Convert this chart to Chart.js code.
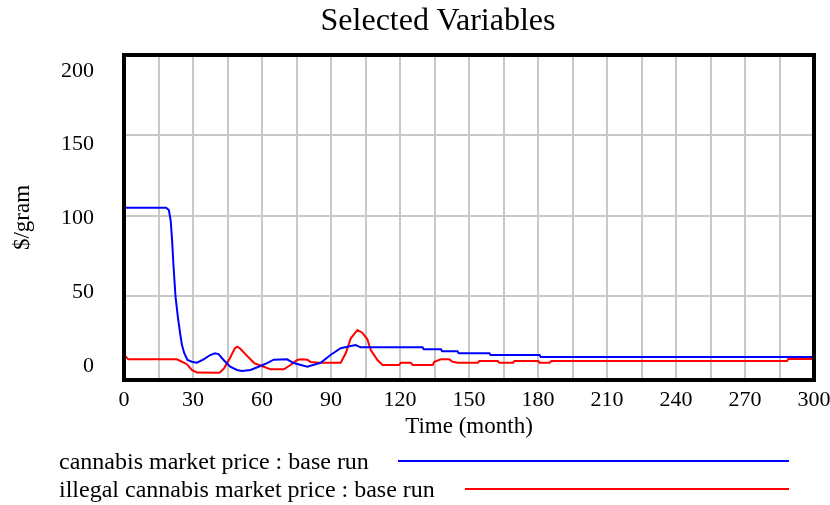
<!DOCTYPE html>
<html>
<head>
<meta charset="utf-8">
<script src="https://cdn.jsdelivr.net/npm/chart.js@4.4.1/dist/chart.umd.min.js"></script>
<style>
  body { margin: 0; background: #fff; }
  #wrap { position: relative; width: 830px; height: 505px; font-family: 'Liberation Serif', 'Times New Roman', serif; color: #000; }
  #myChart { position: absolute; left: 0; top: 0; }
  #title { position: absolute; left: 0; top: 0; width: 876px; text-align: center; font-size: 32px; line-height: 38px; }
  .legtext { position: absolute; left: 59px; font-size: 24px; line-height: 28px; white-space: nowrap; }
  .legline { position: absolute; height: 2px; }
</style>
</head>
<body>
<div id="wrap">
  <canvas id="myChart" width="830" height="505"></canvas>
  <div id="title">Selected Variables</div>
  <div id="legend"></div>
</div>
<script>
// series (time in months, price in $/gram)
var seriesNames = ['cannabis market price : base run', 'illegal cannabis market price : base run'];
var seriesColors = ['#0000ff', '#ff0000'];

var blueTime = [0, 18.3, 19.5, 20.3, 20.9, 21.5, 22.4, 23.4, 24.4, 25.2, 26.2, 27.6, 29.5, 31.7,
  34.6, 37.5, 39.5, 41.1, 43.3, 46.2, 49.1, 51.3, 55, 59.3, 62.2, 65.1, 70.9, 73.8, 79.7, 85.5,
  89.8, 94.2, 98.6, 100.7, 102.9, 129.8, 130.3, 137.8, 138.3, 145, 145.5, 158.9, 159.4, 180.7, 181.2, 300];
var bluePrice = [105, 105, 103.5, 97, 85, 69.3, 49.6, 37.2, 26.8, 19.5, 14.4, 10.2, 9.1, 8.5,
  10.6, 13.3, 14.4, 13.9, 10.2, 6.0, 4.0, 3.4, 4.0, 6.5, 8.3, 10.4, 10.6, 8.3, 6.0, 8.5,
  13.3, 17.5, 18.9, 19.5, 18.1, 18.1, 16.9, 16.9, 15.6, 15.6, 14.4, 14.4, 13.3, 13.3, 12.0, 12.0];

var redTime = [0, 1.9, 23, 25.2, 27.3, 29.5, 31.7, 41.5, 43.5, 46.2, 48.2, 49.3, 50.6, 53.5, 56.6,
  60.8, 63.7, 69.5, 72.4, 75.3, 76.8, 79.7, 81.1, 84.8, 94.2, 96.4, 98.6, 101.5, 103.6, 105.8,
  107.3, 110.2, 112.4, 119.6, 120.4, 124.7, 125.5, 134.2, 134.9, 137.8, 141.4, 142.9, 145.1,
  153.8, 154.5, 162.5, 163.2, 169.1, 169.8, 180, 180.7, 185, 185.8, 288.3, 288.8, 300];
var redPrice = [13.3, 10.6, 10.6, 9.1, 7.6, 4.0, 2.4, 2.3, 5.0, 11.8, 17.5, 18.5, 17.2, 12.8, 8.3,
  6.0, 4.4, 4.4, 7.1, 10.2, 10.6, 10.4, 9.0, 8.5, 8.5, 14.4, 23.7, 28.9, 27.2, 23.1,
  16.4, 10.2, 7.1, 7.1, 8.5, 8.5, 7.1, 7.1, 9.1, 10.6, 10.6, 9.1, 8.5,
  8.5, 9.6, 9.6, 8.5, 8.5, 9.6, 9.6, 8.5, 8.5, 9.6, 9.6, 10.8, 10.8];

var xTicks = [0, 30, 60, 90, 120, 150, 180, 210, 240, 270, 300];
var yTicks = [0, 50, 100, 150, 200];

function toPoints(ts, vs) {
  var pts = [];
  for (var i = 0; i < ts.length; i++) pts.push({x: ts[i], y: vs[i]});
  return pts;
}

// legend rows below the chart
function buildLegend() {
  var legend = document.getElementById('legend');
  var rows = [{top: 447, lineLeft: 398, lineTop: 460}, {top: 475, lineLeft: 465, lineTop: 488}];
  for (var i = 0; i < seriesNames.length; i++) {
    var t = document.createElement('div');
    t.className = 'legtext';
    t.style.top = rows[i].top + 'px';
    t.innerText = seriesNames[i];
    legend.appendChild(t);
    var l = document.createElement('div');
    l.className = 'legline';
    l.style.left = rows[i].lineLeft + 'px';
    l.style.top = rows[i].lineTop + 'px';
    l.style.width = (789 - rows[i].lineLeft) + 'px';
    l.style.background = seriesColors[i];
    legend.appendChild(l);
  }
}

// thick black box round the plot
var framePlugin = {
  id: 'frame',
  afterDraw: function(chart) {
    var a = chart.chartArea, ctx = chart.ctx;
    ctx.save();
    ctx.strokeStyle = '#000';
    ctx.lineWidth = 4;
    ctx.strokeRect(a.left, a.top, a.right - a.left, a.bottom - a.top);
    ctx.restore();
  }
};

function drawGraph() {
  Chart.defaults.font.family = "'Liberation Serif', 'Times New Roman', serif";
  Chart.defaults.color = '#000';
  var ctx = document.getElementById('myChart');
  new Chart(ctx, {
    type: 'line',
    data: {
      datasets: [
        {label: seriesNames[0], data: toPoints(blueTime, bluePrice), borderColor: seriesColors[0], borderWidth: 2, pointRadius: 0, tension: 0},
        {label: seriesNames[1], data: toPoints(redTime, redPrice), borderColor: seriesColors[1], borderWidth: 2, pointRadius: 0, tension: 0}
      ]
    },
    options: {
      responsive: false,
      animation: false,
      layout: {padding: {left: 0, right: 16, top: 55, bottom: 60}},
      plugins: {legend: {display: false}, title: {display: false}, tooltip: {enabled: false}},
      scales: {
        x: {
          type: 'linear', min: 0, max: 300,
          grid: {color: '#c8c8c8', lineWidth: 2, drawTicks: false},
          border: {display: false},
          ticks: {
            stepSize: 15, autoSkip: false, maxRotation: 0, padding: 7,
            font: {size: 22},
            callback: function(v) { return xTicks.indexOf(v) >= 0 ? String(v) : ''; }
          },
          title: {display: true, text: 'Time (month)', font: {size: 23}, padding: {top: 0, bottom: 4}},
          afterFit: function(s) { s.height = 65; s.paddingLeft = 0; s.paddingRight = 0; }
        },
        y: {
          position: 'left', min: -2.24, max: 200,
          grid: {color: '#c8c8c8', lineWidth: 2, drawTicks: false},
          border: {display: false},
          ticks: {display: false},
          afterBuildTicks: function(s) { s.ticks = yTicks.slice(1).map(function(v) { return {value: v}; }); },
          afterFit: function(s) { s.width = 0; s.paddingTop = 0; s.paddingBottom = 0; }
        },
        yl: {
          position: 'left', min: -9.63, max: 210.71,
          grid: {display: false, drawTicks: false},
          border: {display: false},
          ticks: {font: {size: 22}, padding: 30},
          afterBuildTicks: function(s) { s.ticks = yTicks.map(function(v) { return {value: v}; }); },
          title: {display: true, text: '$/gram', font: {size: 23}, padding: {top: 9, bottom: 0}},
          afterFit: function(s) { s.width = 124; s.paddingTop = 0; s.paddingBottom = 0; }
        }
      }
    },
    plugins: [framePlugin]
  });
}

buildLegend();
drawGraph();
</script>
</body>
</html>
